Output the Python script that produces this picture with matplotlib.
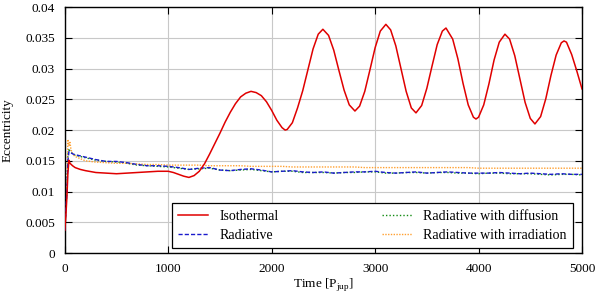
import matplotlib
matplotlib.use("Agg")
import matplotlib.pyplot as plt

# Isothermal run
t_iso = [0, 10, 20, 30, 40, 50, 75, 100, 150, 200, 300, 400, 500, 600, 700, 800,
         900, 1000, 1050, 1100, 1150, 1200, 1250, 1300, 1350, 1400, 1450, 1500,
         1550, 1600, 1650, 1700, 1750, 1800, 1850, 1900, 1950, 2000, 2050, 2100,
         2130, 2150, 2200, 2250, 2300, 2350, 2400, 2450, 2495, 2550, 2600, 2650,
         2700, 2750, 2805, 2850, 2900, 2950, 3000, 3050, 3104, 3150, 3200, 3250,
         3300, 3350, 3395, 3450, 3500, 3550, 3600, 3650, 3685, 3750, 3800, 3850,
         3900, 3950, 3975, 4000, 4050, 4100, 4150, 4200, 4255, 4300, 4350, 4400,
         4450, 4500, 4545, 4600, 4650, 4700, 4750, 4800, 4826, 4850, 4900, 4950,
         5000]
e_iso = [0.0037, 0.0060, 0.0090, 0.0130, 0.0151, 0.0146, 0.0142, 0.0139, 0.0136,
         0.0134, 0.0131, 0.0130, 0.0129, 0.0130, 0.0131, 0.0132, 0.0133, 0.0133,
         0.0131, 0.0128, 0.0125, 0.0123, 0.0126, 0.0133, 0.0145, 0.0161, 0.0178,
         0.0195, 0.0213, 0.0229, 0.0243, 0.0254, 0.0260, 0.0263, 0.0261, 0.0256,
         0.0246, 0.0232, 0.0216, 0.0204, 0.0200, 0.0201, 0.0212, 0.0236, 0.0264,
         0.0298, 0.0332, 0.0356, 0.0364, 0.0354, 0.0330, 0.0297, 0.0265, 0.0241,
         0.0231, 0.0239, 0.0263, 0.0298, 0.0334, 0.0361, 0.0372, 0.0363, 0.0337,
         0.0300, 0.0263, 0.0236, 0.0228, 0.0240, 0.0268, 0.0304, 0.0339, 0.0361,
         0.0366, 0.0348, 0.0316, 0.0276, 0.0241, 0.0221, 0.0218, 0.0221, 0.0241,
         0.0275, 0.0314, 0.0343, 0.0356, 0.0348, 0.0321, 0.0283, 0.0245, 0.0219,
         0.0210, 0.0222, 0.0251, 0.0289, 0.0322, 0.0342, 0.0345, 0.0343, 0.0323,
         0.0296, 0.0267]

# Radiative runs (common time grid)
t_rad = [0, 20, 30, 40, 50, 60, 80, 100, 200, 300, 400, 500, 600, 700, 800, 900,
         1000, 1100, 1200, 1300, 1400, 1500, 1600, 1700, 1800, 1900, 2000, 2100,
         2200, 2300, 2400, 2500, 2600, 2700, 2800, 2900, 3000, 3100, 3200, 3300,
         3400, 3500, 3600, 3700, 3800, 3900, 4000, 4100, 4200, 4300, 4400, 4500,
         4600, 4700, 4800, 4900, 5000]
e_rad = [0.0037, 0.0100, 0.0150, 0.0165, 0.0164, 0.0163, 0.0161, 0.0160, 0.0156,
         0.0152, 0.0149, 0.0149, 0.0147, 0.0144, 0.0142, 0.0142, 0.0141, 0.0139,
         0.0136, 0.0138, 0.0139, 0.0135, 0.0134, 0.0136, 0.0137, 0.0135, 0.0132,
         0.0133, 0.0134, 0.0132, 0.0131, 0.0132, 0.0130, 0.0131, 0.0132, 0.0132,
         0.0133, 0.0131, 0.0130, 0.0131, 0.0132, 0.0130, 0.0131, 0.0132, 0.0131,
         0.0130, 0.0130, 0.0130, 0.0131, 0.0130, 0.0129, 0.0130, 0.0129, 0.0128,
         0.0129, 0.0128, 0.0128]
e_diff = [0.0037, 0.0105, 0.0160, 0.0170, 0.0166, 0.0164, 0.0161, 0.0159, 0.0155,
          0.0151, 0.0149, 0.0148, 0.0146, 0.0143, 0.0142, 0.0141, 0.0140, 0.0138,
          0.0136, 0.0137, 0.0138, 0.0135, 0.0134, 0.0135, 0.0136, 0.0134, 0.0132,
          0.0133, 0.0133, 0.0131, 0.0131, 0.0131, 0.0130, 0.0131, 0.0131, 0.0132,
          0.0132, 0.0130, 0.0130, 0.0131, 0.0131, 0.0130, 0.0131, 0.0131, 0.0130,
          0.0130, 0.0129, 0.0130, 0.0130, 0.0129, 0.0129, 0.0129, 0.0128, 0.0127,
          0.0128, 0.0128, 0.0127]
e_irr = [0.0037, 0.0110, 0.0185, 0.0175, 0.0180, 0.0168, 0.0160, 0.0157, 0.0150,
         0.0148, 0.0147, 0.0146, 0.0146, 0.0145, 0.0144, 0.0144, 0.0143, 0.0143,
         0.0143, 0.0143, 0.0142, 0.0142, 0.0142, 0.0142, 0.0141, 0.0141, 0.0141,
         0.0141, 0.0140, 0.0140, 0.0140, 0.0140, 0.0140, 0.0140, 0.0140, 0.0139,
         0.0139, 0.0139, 0.0139, 0.0139, 0.0139, 0.0139, 0.0139, 0.0139, 0.0139,
         0.0139, 0.0138, 0.0138, 0.0138, 0.0138, 0.0138, 0.0138, 0.0138, 0.0138,
         0.0138, 0.0138, 0.0138]

x_ticks = [0, 1000, 2000, 3000, 4000, 5000]
y_ticks = [0, 0.005, 0.01, 0.015, 0.02, 0.025, 0.03, 0.035, 0.04]
y_labels = ["0", "0.005", "0.01", "0.015", "0.02", "0.025", "0.03", "0.035", "0.04"]

plt.rcParams["font.family"] = ["Liberation Serif", "DejaVu Serif"]
plt.rcParams["font.size"] = 9.5

fig = plt.figure(figsize=(6.0, 2.97), dpi=100)
ax = fig.add_axes([0.108, 0.148, 0.862, 0.828])

ax.plot(t_iso, e_iso, color="#e00000", lw=1.1, label="Isothermal", zorder=4)
ax.plot(t_rad, e_rad, color="#1a1acc", lw=1.0, ls=(0, (3, 1.5)), label="Radiative", zorder=3)
ax.plot(t_rad, e_diff, color="#118a11", lw=1.0, ls=(0, (1, 1.5)), label="Radiative with diffusion", zorder=2)
ax.plot(t_rad, e_irr, color="#ffa030", lw=1.0, ls=(0, (1, 1)), label="Radiative with irradiation", zorder=2)

ax.set_xlim(0, 5000)
ax.set_ylim(0, 0.04)
ax.set_xticks(x_ticks)
ax.set_yticks(y_ticks)
ax.set_yticklabels(y_labels)
ax.tick_params(direction="in", top=True, right=True, length=5, width=0.8, pad=7)
ax.grid(True, color="#c8c8c8", lw=0.8)
ax.set_axisbelow(True)
for s in ax.spines.values():
    s.set_linewidth(1.0)

ax.set_xlabel("Time [P$_\\mathregular{jup}$]", labelpad=1)
ax.set_ylabel("Eccentricity", labelpad=8)

leg = ax.legend(ncol=2, loc="lower right", bbox_to_anchor=(0.9826, 0.02),
                borderaxespad=0, fancybox=False, framealpha=1, edgecolor="black",
                handlelength=2.2, handletextpad=0.8, columnspacing=7.4,
                labelspacing=0.45, borderpad=0.45, fontsize=10)
leg.get_frame().set_linewidth(0.9)

fig.savefig("out.png", dpi=100)
